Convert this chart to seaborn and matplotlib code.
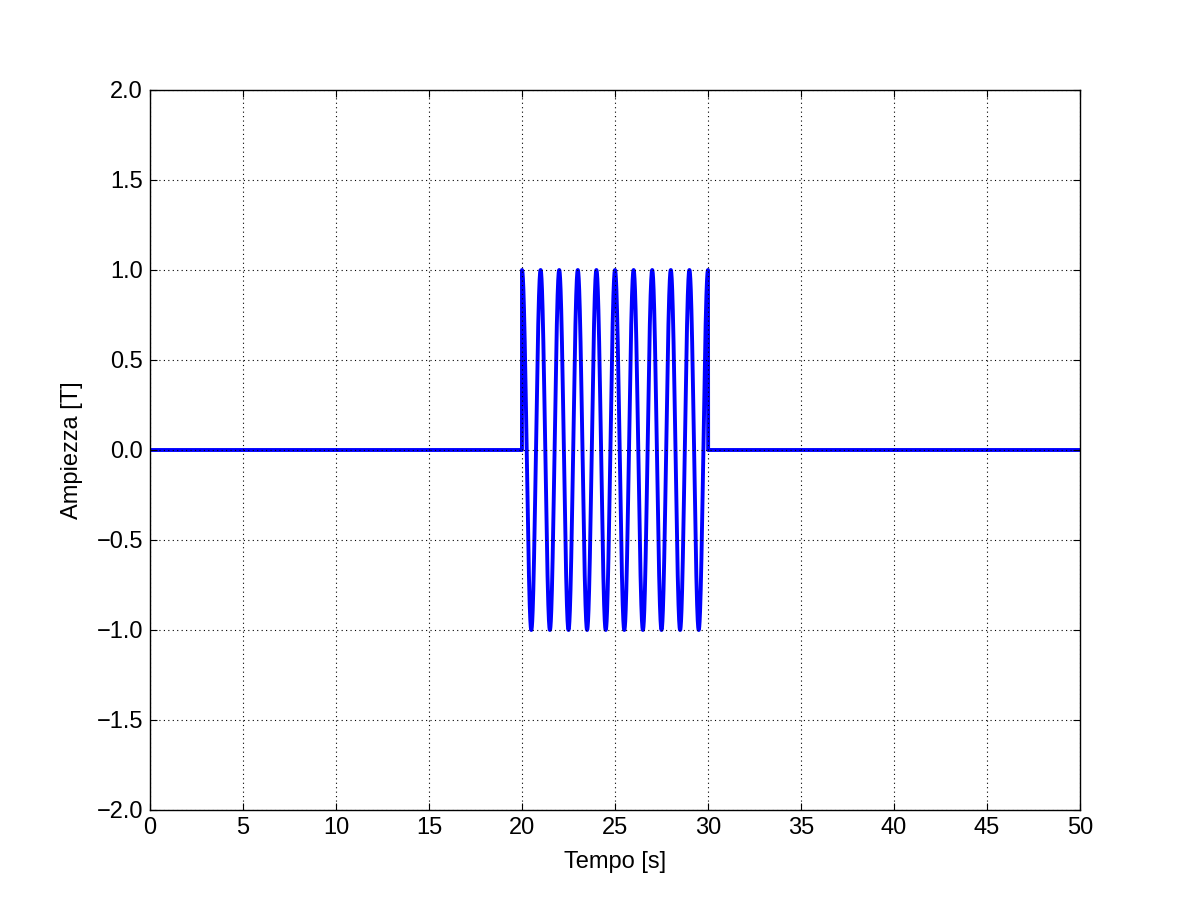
import numpy as np
import pandas as pd
import matplotlib
matplotlib.use("Agg")
import matplotlib.pyplot as plt
import seaborn as sns

# Burst parameters
burst_start = 20.0      # s
burst_end = 30.0        # s
freq_hz = 1.0           # one peak per second
amplitude = 1.0         # T
t_max = 50.0
x_ticks = [0, 5, 10, 15, 20, 25, 30, 35, 40, 45, 50]
y_ticks = [-2.0, -1.5, -1.0, -0.5, 0.0, 0.5, 1.0, 1.5, 2.0]

sns.set_style("ticks")
plt.rcParams['font.family'] = ['Liberation Sans', 'DejaVu Sans']
plt.rcParams['text.color'] = 'black'
plt.rcParams['axes.labelcolor'] = 'black'
plt.rcParams['xtick.color'] = 'black'
plt.rcParams['ytick.color'] = 'black'

t = np.linspace(0, t_max, 20001)
inside = (t >= burst_start) & (t <= burst_end)
signal = np.where(inside, amplitude * np.cos(2 * np.pi * freq_hz * t), 0.0)
df = pd.DataFrame({"t": t, "b": signal})

fig = plt.figure(figsize=(12, 9), dpi=100)
ax = fig.add_axes([0.125, 0.1, 0.775, 0.8])
sns.lineplot(data=df, x="t", y="b", ax=ax, color="#0000ff", linewidth=2.8,
             estimator=None, sort=False)

ax.set_xlim(0, t_max)
ax.set_ylim(-2, 2)
ax.set_xticks(x_ticks)
ax.set_yticks(y_ticks)
ax.set_xticklabels([str(v) for v in x_ticks])
ax.set_yticklabels([f"{v:.1f}".replace("-", "\u2212") for v in y_ticks])
ax.set_xlabel("Tempo [s]", fontsize=17, labelpad=9)
ax.set_ylabel("Ampiezza [T]", fontsize=17, labelpad=10)

ax.set_axisbelow(False)
ax.grid(True, color="black", linestyle=(0, (1, 3)), linewidth=0.8)
ax.tick_params(direction="in", top=True, right=True, length=5, width=0.8,
               labelsize=17, pad=5)
for sp in ax.spines.values():
    sp.set_visible(True)
    sp.set_color("black")
    sp.set_linewidth(1.0)

fig.savefig("out.png", dpi=100)
